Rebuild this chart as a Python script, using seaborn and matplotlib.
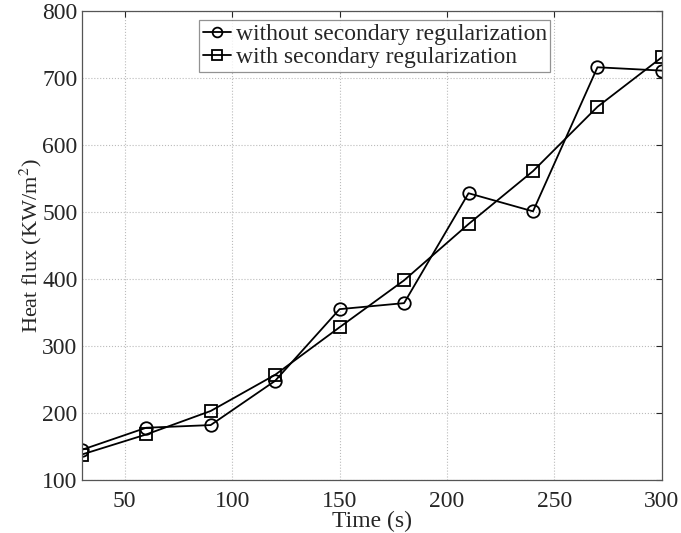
import matplotlib
matplotlib.use("Agg")
import matplotlib.pyplot as plt
import seaborn as sns
import pandas as pd

time_s = [30, 60, 90, 120, 150, 180, 210, 240, 270, 300]
without_reg = [145, 178, 182, 248, 355, 364, 528, 501, 716, 711]
with_reg = [138, 168, 203, 257, 328, 398, 482, 561, 657, 731]
labels = ["without secondary regularization", "with secondary regularization"]

sns.set_style("white")
plt.rcParams['font.family'] = ['Liberation Serif', 'DejaVu Serif']
plt.rcParams['mathtext.fontset'] = 'stix'

fig = plt.figure(figsize=(6.81, 5.33), dpi=100)
ax = fig.add_axes([0.120, 0.0994, 0.852, 0.880])

df = pd.DataFrame({
    "t": time_s * 2,
    "q": without_reg + with_reg,
    "s": [labels[0]] * len(time_s) + [labels[1]] * len(time_s),
})

sns.lineplot(data=df, x="t", y="q", hue="s", style="s",
             markers={labels[0]: "o", labels[1]: "s"}, dashes=False,
             palette={labels[0]: "black", labels[1]: "black"},
             markersize=9, markerfacecolor="none", markeredgecolor="black",
             markeredgewidth=1.3, linewidth=1.3, ax=ax, legend=True)

ax.set_xlim(30, 300)
ax.set_ylim(100, 800)
ax.set_xticks([50, 100, 150, 200, 250, 300])
ax.set_yticks(range(100, 801, 100))
ax.grid(True, linestyle=":", color="#bbbbbb", linewidth=0.8)
ax.tick_params(direction="in", labelsize=17, length=4, top=True, right=True, pad=3)
ax.tick_params(axis="x", pad=8)
for sp in ax.spines.values():
    sp.set_color("#555555")
    sp.set_linewidth(0.9)
ax.set_xlabel("Time (s)", fontsize=17, labelpad=-1)
ax.set_ylabel("Heat flux (KW/m$^2$)", fontsize=16, labelpad=-1)

h, l = ax.get_legend_handles_labels()
for hh in h:
    hh.set_markerfacecolor("none")
    hh.set_markeredgecolor("black")
    hh.set_markersize(7)
leg = ax.legend(h, l, loc="upper center", bbox_to_anchor=(0.505, 0.995),
                fontsize=17, frameon=True, fancybox=False, edgecolor="#777777",
                handlelength=1.2, handletextpad=0.2, borderpad=0.15,
                labelspacing=0.05, borderaxespad=0.3)
leg.get_frame().set_linewidth(0.9)

fig.savefig("out.png", dpi=100)
